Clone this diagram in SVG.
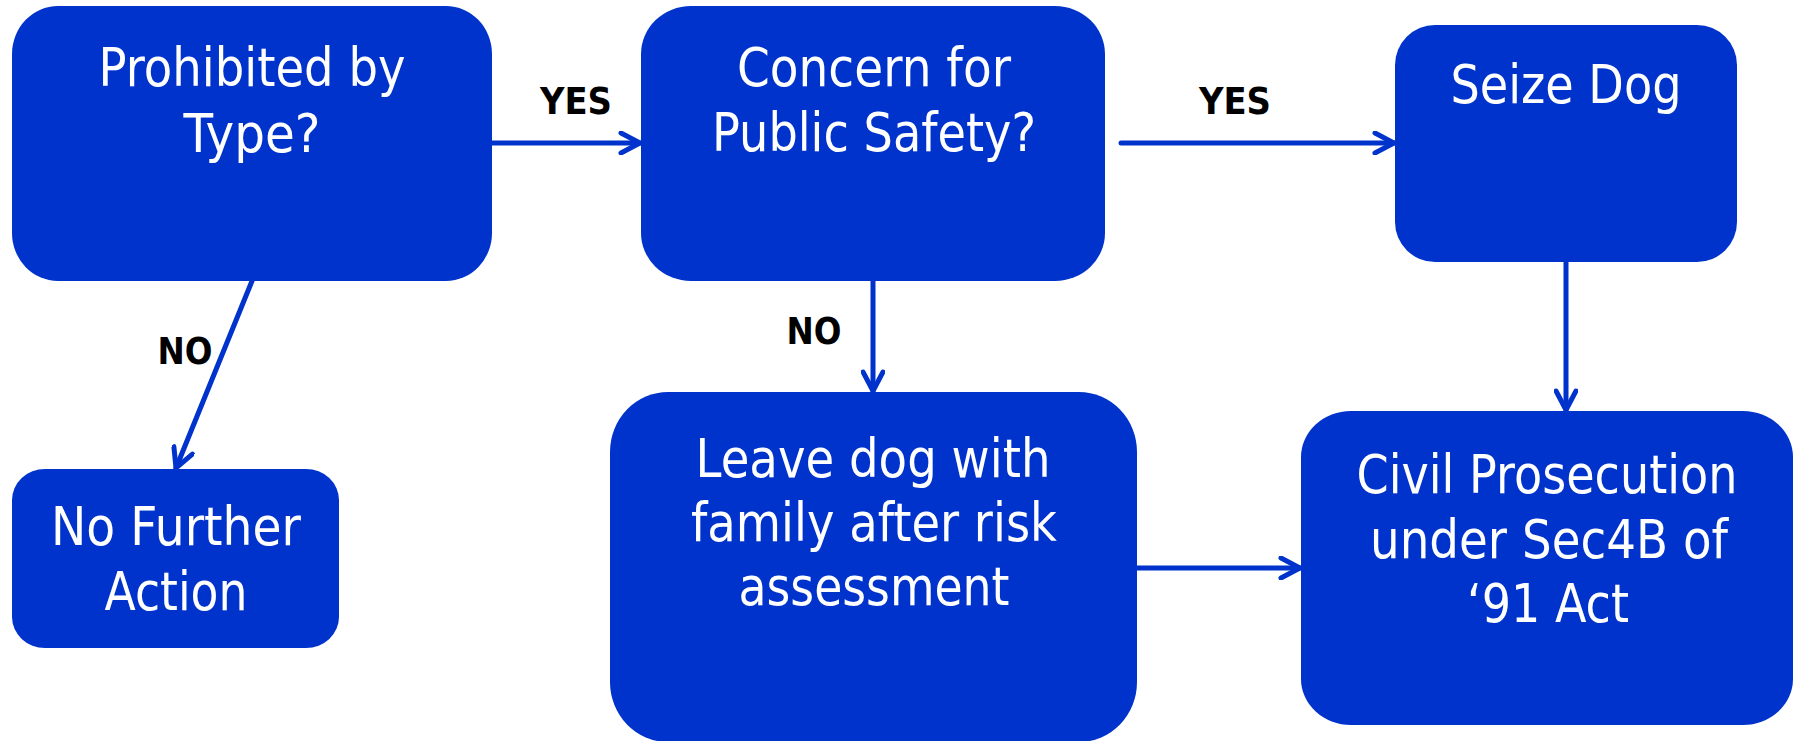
<svg xmlns="http://www.w3.org/2000/svg" width="1794" height="741" viewBox="0 0 1794 741">
  <style>
    .box { fill: #0033CC; }
    .label { fill: #FFFFFF; font-family: "DejaVu Sans", "Liberation Sans", sans-serif; font-size: 54px; text-anchor: middle; }
    .edge { stroke: #0033CC; stroke-width: 5; fill: none; stroke-linecap: round; }
    .tag { fill: #000000; font-family: "DejaVu Sans", "Liberation Sans", sans-serif; font-weight: bold; font-size: 37px; text-anchor: middle; }
  </style>
  <defs>
    <marker id="chevron" viewBox="0 0 24 24" refX="22" refY="12" markerWidth="24" markerHeight="24" markerUnits="userSpaceOnUse" orient="auto">
      <path d="M3,2 L22,12 L3,22" fill="none" stroke="#0033CC" stroke-width="5" stroke-linecap="round" stroke-linejoin="miter"/>
    </marker>
  </defs>
  <rect width="1794" height="741" fill="#FFFFFF"/>

  <g id="connectors">
    <line class="edge" x1="492" y1="143" x2="640" y2="143" marker-end="url(#chevron)"/>
    <line class="edge" x1="1121" y1="143" x2="1394" y2="143" marker-end="url(#chevron)"/>
    <line class="edge" x1="1566" y1="262" x2="1566" y2="410" marker-end="url(#chevron)"/>
    <line class="edge" x1="252" y1="281" x2="176" y2="468" marker-end="url(#chevron)"/>
    <line class="edge" x1="873" y1="281" x2="873" y2="391" marker-end="url(#chevron)"/>
    <line class="edge" x1="1137" y1="568" x2="1300" y2="568" marker-end="url(#chevron)"/>
    <text class="tag" x="576" y="114" textLength="72" lengthAdjust="spacingAndGlyphs">YES</text>
    <text class="tag" x="1235" y="114" textLength="72" lengthAdjust="spacingAndGlyphs">YES</text>
    <text class="tag" x="185" y="364" textLength="55" lengthAdjust="spacingAndGlyphs">NO</text>
    <text class="tag" x="814" y="344" textLength="55" lengthAdjust="spacingAndGlyphs">NO</text>
  </g>

  <g id="prohibited">
    <rect class="box" x="12" y="6" width="480" height="275" rx="46" ry="48"/>
    <text class="label" x="252" y="86" textLength="307" lengthAdjust="spacingAndGlyphs">Prohibited by</text>
    <text class="label" x="252" y="152" textLength="137" lengthAdjust="spacingAndGlyphs">Type?</text>
  </g>

  <g id="concern">
    <rect class="box" x="641" y="6" width="464" height="275" rx="50" ry="48"/>
    <text class="label" x="874" y="86" textLength="274" lengthAdjust="spacingAndGlyphs">Concern for</text>
    <text class="label" x="874" y="151" textLength="324" lengthAdjust="spacingAndGlyphs">Public Safety?</text>
  </g>

  <g id="seize">
    <rect class="box" x="1395" y="25" width="342" height="237" rx="40" ry="40"/>
    <text class="label" x="1566" y="103" textLength="231" lengthAdjust="spacingAndGlyphs">Seize Dog</text>
  </g>

  <g id="no-further-action">
    <rect class="box" x="12" y="469" width="327" height="179" rx="33" ry="31"/>
    <text class="label" x="176" y="545" textLength="250" lengthAdjust="spacingAndGlyphs">No Further</text>
    <text class="label" x="176" y="610" textLength="143" lengthAdjust="spacingAndGlyphs">Action</text>
  </g>

  <g id="leave-dog">
    <rect class="box" x="610" y="392" width="527" height="350" rx="58" ry="60"/>
    <text class="label" x="873" y="477" textLength="355" lengthAdjust="spacingAndGlyphs">Leave dog with</text>
    <text class="label" x="874" y="541" textLength="366" lengthAdjust="spacingAndGlyphs">family after risk</text>
    <text class="label" x="874" y="605" textLength="271" lengthAdjust="spacingAndGlyphs">assessment</text>
  </g>

  <g id="civil-prosecution">
    <rect class="box" x="1301" y="411" width="492" height="314" rx="50" ry="46"/>
    <text class="label" x="1547" y="493" textLength="381" lengthAdjust="spacingAndGlyphs">Civil Prosecution</text>
    <text class="label" x="1549" y="558" textLength="358" lengthAdjust="spacingAndGlyphs">under Sec4B of</text>
    <text class="label" x="1548" y="622" textLength="162" lengthAdjust="spacingAndGlyphs">‘91 Act</text>
  </g>
</svg>
